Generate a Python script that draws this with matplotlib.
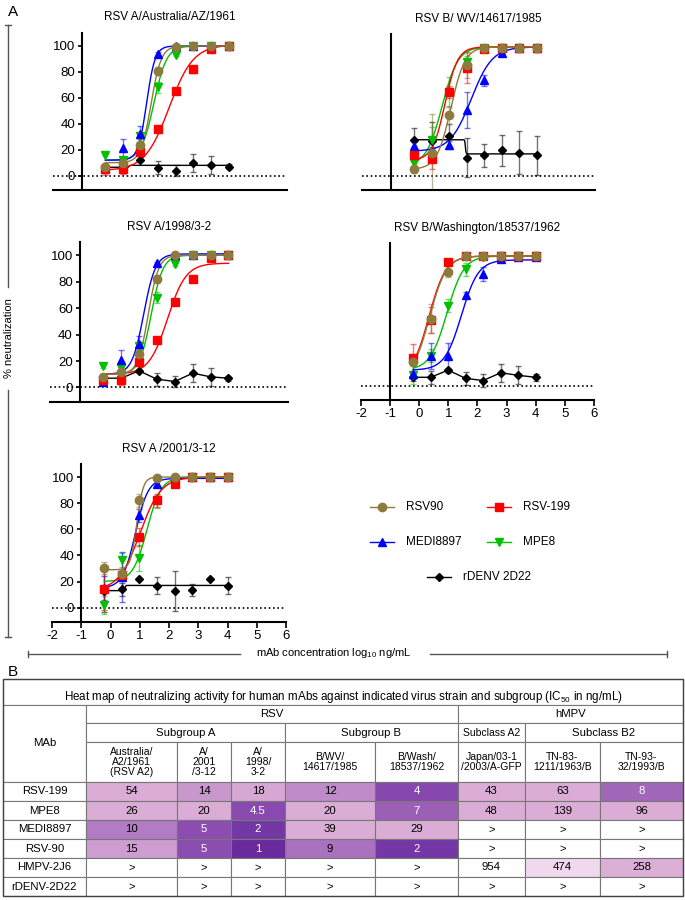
import numpy as np
import matplotlib
matplotlib.use('Agg')
import matplotlib.pyplot as plt
from matplotlib.patches import Rectangle
from matplotlib.colors import LinearSegmentedColormap, LogNorm

plt.rcParams['font.family'] = ['Liberation Sans', 'DejaVu Sans']
plt.rcParams['axes.unicode_minus'] = False
plt.rcParams['mathtext.fontset'] = 'custom'
plt.rcParams['mathtext.rm'] = 'Liberation Sans'
plt.rcParams['mathtext.default'] = 'regular'

# ---- data: panel A (log10 ng/mL, % neutralization) ----
x_log = [-0.21, 0.39, 0.99, 1.59, 2.19, 2.80, 3.40, 4.00]

mabs = ['RSV90', 'RSV-199', 'MEDI8897', 'MPE8', 'rDENV 2D22']
colors = ['#8c7b3c', '#ff0000', '#0000ff', '#00c000', '#000000']
markers = ['o', 's', '^', 'v', 'D']

aus_mean = {'RSV90': [7, 10, 24, 81, 99, 100, 100, 100],
            'RSV-199': [5, 5, 18, 36, 65, 82, 98, 100],
            'MEDI8897': [5, 21, 32, 94, 100, 100, 100, 100],
            'MPE8': [16, 12, 31, 68, 93, 100, 100, 100],
            'rDENV 2D22': [6, 6, 12, 6, 4, 10, 8, 7]}
aus_sd = {'RSV90': [1, 1, 4, 3, 1, 1, 1, 1],
          'RSV-199': [4.5, 4, 3, 2, 1, 2.5, 1, 1],
          'MEDI8897': [1, 7.5, 6, 1, 1, 1, 1, 1],
          'MPE8': [1, 2, 3, 4.5, 1, 1, 1, 1],
          'rDENV 2D22': [2, 2, 1, 5, 4.5, 7, 7, 2]}
# bottom, top, logIC50, hill
aus_fit = {'RSV90': (10, 100, 1.35, 2.5), 'RSV-199': (4, 101, 1.97, 1.05),
           'MEDI8897': (12, 100, 1.2, 3), 'MPE8': (12, 100, 1.45, 2),
           'rDENV 2D22': (6.5, 8, 0.6, 40)}

wv_mean = {'RSV90': [5, 18, 47, 86, 99, 99, 99, 99],
           'RSV-199': [16, 13, 65, 84, 98, 99, 99, 99],
           'MEDI8897': [23, 18, 24, 51, 74, 95, 99, 99],
           'MPE8': [10, 28, 65, 88, 99, 99, 99, 99],
           'rDENV 2D22': [28, 27, 31, 14, 16, 20, 18, 16]}
wv_sd = {'RSV90': [3, 30, 7, 10, 1, 1, 1, 1],
         'RSV-199': [3, 8, 5, 12, 1, 1, 1, 1],
         'MEDI8897': [3, 4, 3, 14, 4, 1, 1, 1],
         'MPE8': [3, 10, 12, 5, 1, 1, 1, 1],
         'rDENV 2D22': [9, 15, 9, 15, 9, 12, 16.5, 15]}
wv_fit = {'RSV90': (5, 100, 1.05, 1.8), 'RSV-199': (12, 100, 0.85, 2),
          'MEDI8897': (19, 100, 1.75, 1.2), 'MPE8': (8, 100, 0.75, 1.6),
          'rDENV 2D22': (28, 17, 1.55, 40)}

a98_mean = {'RSV90': [8, 12, 25, 82, 100, 100, 100, 100],
            'RSV-199': [6, 6, 19, 36, 65, 82, 98, 100],
            'MEDI8897': [4.5, 21, 33, 94, 100, 100, 100, 100],
            'MPE8': [16, 15, 31, 68, 93, 100, 100, 100],
            'rDENV 2D22': [7, 7, 12.6, 6.3, 4.5, 10.8, 8, 7]}
a98_sd = {'RSV90': [1, 1, 4, 3, 1, 1, 1, 1],
          'RSV-199': [4.5, 4, 3, 2, 1, 2.5, 1, 1],
          'MEDI8897': [1, 7.5, 6, 1, 1, 1, 1, 1],
          'MPE8': [1, 2, 3, 4.5, 1, 1, 1, 1],
          'rDENV 2D22': [2, 2, 1, 5, 4.5, 7, 7, 2]}
a98_fit = {'RSV90': (10, 100, 1.3, 2.5), 'RSV-199': (10, 94, 1.95, 1.4),
           'MEDI8897': (10, 101, 1.15, 2.2), 'MPE8': (10, 100, 1.4, 2.2),
           'rDENV 2D22': None}

wash_mean = {'RSV90': [18.6, 51.7, 88, 100, 100, 100, 100, 100],
             'RSV-199': [21, 51, 95, 100, 100, 100, 100, 100],
             'MEDI8897': [9, 23, 23, 70, 86, 98, 99, 99],
             'MPE8': [8, 23, 61.5, 89.7, 99, 100, 100, 100],
             'rDENV 2D22': [6.5, 6.5, 12, 5.7, 4, 10, 8, 6.5]}
wash_sd = {'RSV90': [3, 11, 4, 1, 1, 1, 1, 1],
           'RSV-199': [11, 10, 2, 1, 1, 1, 1, 1],
           'MEDI8897': [2, 10, 10, 2, 5.5, 1, 1, 1],
           'MPE8': [7, 5, 5, 5, 1, 1, 1, 1],
           'rDENV 2D22': [3, 5, 2, 5, 5, 7, 7, 2.5]}
wash_fit = {'RSV90': (5, 100, 0.35, 1.5), 'RSV-199': (6, 100, 0.33, 1.5),
            'MEDI8897': (12, 97, 1.45, 1.5), 'MPE8': (12, 100, 0.95, 1.5),
            'rDENV 2D22': None}

a01_mean = {'RSV90': [30.6, 26, 82.4, 99, 100, 100, 100, 100],
            'RSV-199': [14, 25, 54, 82.4, 95, 100, 100, 100],
            'MEDI8897': [15, 23.5, 70.7, 95, 100, 100, 100, 100],
            'MPE8': [2, 36.5, 38, 81.6, 96, 100, 100, 100],
            'rDENV 2D22': [12.8, 14, 22, 16.6, 12.8, 13.5, 22, 16.6]}
a01_sd = {'RSV90': [4.5, 3, 5, 1, 1, 1, 1, 1],
          'RSV-199': [16, 3, 7, 5, 2, 1, 1, 1],
          'MEDI8897': [9, 19, 5, 2, 1, 1, 1, 1],
          'MPE8': [7, 5, 10, 5, 1, 1, 1, 1],
          'rDENV 2D22': [16, 5, 0, 6.5, 15, 4.5, 0, 6.5]}
a01_fit = {'RSV90': (29, 100, 0.9, 4), 'RSV-199': (13, 100, 1.0, 1.2),
           'MEDI8897': (15, 99, 0.85, 2), 'MPE8': (20, 100, 1.25, 1.8),
           'rDENV 2D22': (13, 17, 0.5, 40)}

# ---- data: panel B (IC50 in ng/mL, None = not neutralizing) ----
table_mabs = ['RSV-199', 'MPE8', 'MEDI8897', 'RSV-90', 'HMPV-2J6', 'rDENV-2D22']
strains = ['Australia/\nA2/1961\n(RSV A2)', 'A/\n2001\n/3-12', 'A/\n1998/\n3-2',
           'B/WV/\n14617/1985', 'B/Wash/\n18537/1962', 'Japan/03-1\n/2003/A-GFP',
           'TN-83-\n1211/1963/B', 'TN-93-\n32/1993/B']
ic50 = [[54, 14, 18, 12, 4, 43, 63, 8],
        [26, 20, 4.5, 20, 7, 48, 139, 96],
        [10, 5, 2, 39, 29, None, None, None],
        [15, 5, 1, 9, 2, None, None, None],
        [None, None, None, None, None, 954, 474, 258],
        [None, None, None, None, None, None, None, None]]


def fourpl(x, p):
    b, t, m, h = p
    return b + (t - b) / (1 + 10 ** ((m - x) * h))


W, H = 685, 900
fig = plt.figure(figsize=(W / 100, H / 100), dpi=100)
ov = fig.add_axes([0, 0, 1, 1])
ov.set_xlim(0, W)
ov.set_ylim(H, 0)
ov.axis('off')


def px_rect(l, t, r, b):
    return [l / W, 1 - b / H, (r - l) / W, (b - t) / H]


panels = [
    ('RSV A/Australia/AZ/1961', aus_mean, aus_sd, aus_fit, (53, 33, 287, 190), True, False),
    ('RSV B/ WV/14617/1985', wv_mean, wv_sd, wv_fit, (362, 34, 595, 190), False, False),
    ('RSV A/1998/3-2', a98_mean, a98_sd, a98_fit, (50, 242, 288, 402), True, False),
    ('RSV B/Washington/18537/1962', wash_mean, wash_sd, wash_fit, (361, 243, 594, 400), False, True),
    ('RSV A /2001/3-12', a01_mean, a01_sd, a01_fit, (52, 464, 286, 622), True, True),
]

xs = np.linspace(min(x_log), max(x_log), 300)
for title, mean, sd, fit, rect, show_y, show_x in panels:
    ax = fig.add_axes(px_rect(*rect))
    ax.set_xlim(-2, 6)
    ax.set_ylim(-11, 110)
    for sp in ['top', 'right']:
        ax.spines[sp].set_visible(False)
    ax.spines['left'].set_position(('data', -1))
    ax.spines['left'].set_linewidth(1.5)
    ax.spines['bottom'].set_linewidth(1.5)
    ax.axhline(0, color='k', lw=1.2, ls=(0, (1, 1.6)), zorder=1)
    order = [4, 3, 2, 1, 0]
    for i in order:
        name = mabs[i]
        c = colors[i]
        ax.errorbar(x_log, mean[name], yerr=sd[name], fmt='none', ecolor=c,
                    elinewidth=1, capsize=2.5, capthick=1, alpha=0.55, zorder=2)
        if fit[name] is not None:
            ax.plot(xs, fourpl(xs, fit[name]), color=c, lw=1, zorder=3)
        else:
            ax.plot(x_log, mean[name], color=c, lw=1, zorder=3)
        ms = 4.5 if markers[i] == 'D' else 6
        ax.plot(x_log, mean[name], ls='none', marker=markers[i], color=c, ms=ms, zorder=4)
    ax.set_title(title, fontsize=8.5, pad=9)
    if show_y:
        ax.set_yticks([0, 20, 40, 60, 80, 100])
        ax.tick_params(axis='y', labelsize=9.5, length=3, width=1.2, pad=2)
    else:
        ax.set_yticks([])
    if show_x:
        ax.set_xticks(range(-2, 7))
        ax.tick_params(axis='x', labelsize=9.5, length=4, width=1.2, pad=2)
    else:
        ax.set_xticks([])

# panel letters, shared axis labels
ov.text(8, 12, 'A', fontsize=11, va='center', ha='left')
ov.text(8, 672, 'B', fontsize=11, va='center', ha='left')

ov.plot([8, 8], [25, 287], color='#555555', lw=1)
ov.plot([8, 8], [390, 637], color='#555555', lw=1)
ov.plot([5, 11], [25, 25], color='#555555', lw=1)
ov.plot([5, 11], [637, 637], color='#555555', lw=1)
ov.text(9, 338, '% neutralization', rotation=90, fontsize=8, ha='center', va='center')

ov.plot([28, 240], [654, 654], color='#555555', lw=1)
ov.plot([430, 667], [654, 654], color='#555555', lw=1)
ov.plot([28, 28], [651, 657], color='#555555', lw=1)
ov.plot([667, 667], [651, 657], color='#555555', lw=1)
ov.text(334, 653, 'mAb concentration log$_{10}$ ng/mL', fontsize=8, ha='center', va='center')

# legend
leg_pos = [(382, 507), (499, 507), (382, 542), (499, 542), (439, 577)]
for i, (lx, ly) in enumerate(leg_pos):
    ov.plot([lx - 12, lx + 12], [ly, ly], color=colors[i], lw=1)
    ms = 4.5 if markers[i] == 'D' else 6
    ov.plot([lx], [ly], marker=markers[i], color=colors[i], ms=ms, ls='none')
    ov.text(lx + 24, ly, mabs[i], fontsize=8.5, va='center', ha='left')

# ---- heat map table ----
cmap = LinearSegmentedColormap.from_list('ic50', [
    (0.0, '#6a2a9e'), (0.1, '#7338a6'), (0.233, '#8c4db1'), (0.3, '#a066b8'),
    (0.333, '#b27bc4'), (0.38, '#c898cc'), (0.434, '#dbadd6'), (0.8, '#dbadd6'),
    (0.89, '#efd8ec'), (1.0, '#ffffff')])
norm = LogNorm(1, 1000)

col_edges = [3, 86, 177, 231, 285, 375, 458, 525, 600, 683]
row_edges = [782, 801, 820, 839, 858, 877, 896]
gc = '#777777'
fs = 8.2
fs_head = 7.5


def cell(l, t, r, b, text='', fc='white', tc='black', size=fs):
    ov.add_patch(Rectangle((l, t), r - l, b - t, facecolor=fc, edgecolor=gc, lw=0.8))
    if text:
        ov.text((l + r) / 2, (t + b) / 2, text, ha='center', va='center',
                fontsize=size, color=tc, linespacing=1.05)


cell(3, 679, 683, 705)
ov.text(343, 697, 'Heat map of neutralizing activity for human mAbs against indicated '
        'virus strain and subgroup (IC$_{50}$ in ng/mL)', ha='center', va='center', fontsize=8.4)
cell(3, 705, 86, 782, 'MAb')
cell(86, 705, 458, 723, 'RSV')
cell(458, 705, 683, 723, 'hMPV')
cell(86, 723, 285, 742, 'Subgroup A')
cell(285, 723, 458, 742, 'Subgroup B')
cell(458, 723, 525, 742, 'Subclass A2', size=fs_head)
cell(525, 723, 683, 742, 'Subclass B2')
for j, s in enumerate(strains):
    cell(col_edges[j + 1], 742, col_edges[j + 2], 782, s, size=fs_head)
for i, name in enumerate(table_mabs):
    t, b = row_edges[i], row_edges[i + 1]
    cell(col_edges[0], t, col_edges[1], b, name)
    for j, v in enumerate(ic50[i]):
        l, r = col_edges[j + 1], col_edges[j + 2]
        if v is None:
            cell(l, t, r, b, '>')
        else:
            fc = cmap(norm(v))
            tc = 'white' if v <= 8 else 'black'
            cell(l, t, r, b, '{:g}'.format(v), fc=fc, tc=tc)
ov.add_patch(Rectangle((3, 679), 680, 217, facecolor='none', edgecolor='#444444', lw=1))

fig.savefig('out.png', dpi=100)
